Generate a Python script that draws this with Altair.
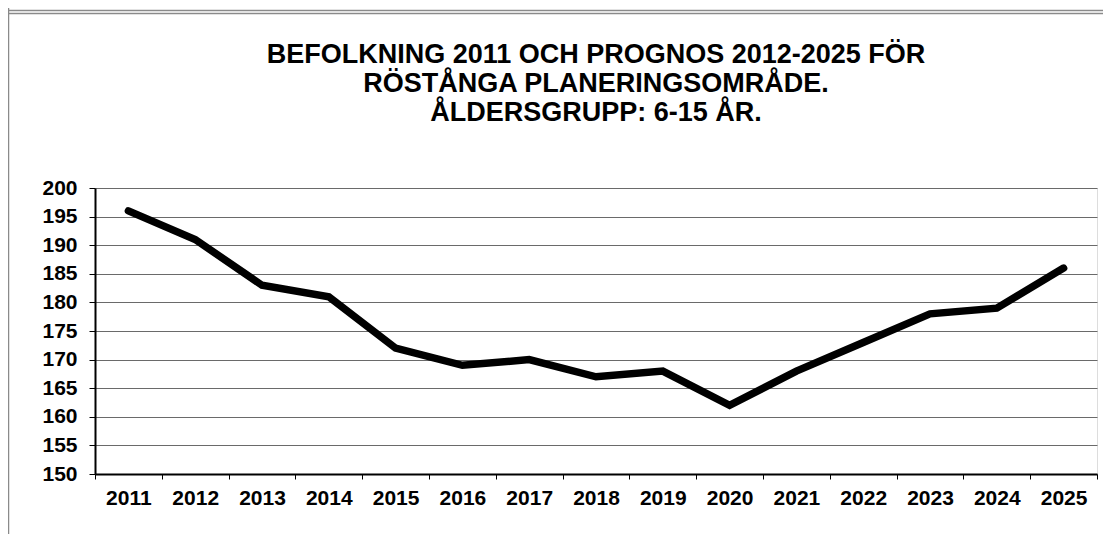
import altair as alt
import pandas as pd

years = [2011, 2012, 2013, 2014, 2015, 2016, 2017, 2018, 2019, 2020, 2021, 2022, 2023, 2024, 2025]
values = [196, 191, 183, 181, 172, 169, 170, 167, 168, 162, 168, 173, 178, 179, 186]
title_lines = ["BEFOLKNING 2011 OCH PROGNOS 2012-2025 FÖR",
               "RÖSTÅNGA PLANERINGSOMRÅDE.",
               "ÅLDERSGRUPP: 6-15 ÅR."]
y_ticks = list(range(150, 201, 5))
x_tick_positions = [y - 0.5 for y in years] + [years[-1] + 0.5]

W, H = 1002, 286
FONT = "Liberation Sans"

df = pd.DataFrame({"year": years, "value": values})

line = alt.Chart(df).mark_line(
    color="black", strokeWidth=7.5, strokeCap="round", strokeJoin="miter"
).encode(
    x=alt.X("year:Q",
            scale=alt.Scale(domain=[years[0] - 0.5, years[-1] + 0.5], nice=False, zero=False),
            axis=alt.Axis(values=x_tick_positions, title=None, grid=False,
                          labelExpr="datum.value < %d ? toString(datum.value + 0.5) : ''" % years[-1],
                          labelOffset=W / len(years) / 2, labelOverlap=False, labelFlush=False,
                          labelFont=FONT, labelFontSize=21, labelFontWeight="bold", labelColor="black",
                          labelPadding=8, tickSize=5, tickColor="black", tickWidth=1,
                          domainColor="black", domainWidth=2)),
    y=alt.Y("value:Q",
            scale=alt.Scale(domain=[150, 200], nice=False, zero=False),
            axis=alt.Axis(values=y_ticks, title=None, grid=True, gridColor="#6a6a6a", gridWidth=1,
                          labelFont=FONT, labelFontSize=21, labelFontWeight="bold", labelColor="black",
                          labelPadding=12, tickSize=6, tickColor="black", tickWidth=1,
                          domainColor="black", domainWidth=2)),
)

frame_df = pd.DataFrame({"a": [0]})
frame_left = alt.Chart(frame_df).mark_rule(color="#8a8a8a", strokeWidth=1.5).encode(
    x=alt.value(-86.5), y=alt.value(-180), y2=alt.value(H + 62))
frame_top1 = alt.Chart(frame_df).mark_rule(color="#8a8a8a", strokeWidth=1.5).encode(
    x=alt.value(-86.5), x2=alt.value(W + 10), y=alt.value(-177.5))
frame_top2 = alt.Chart(frame_df).mark_rule(color="#8a8a8a", strokeWidth=1.5).encode(
    x=alt.value(-86.5), x2=alt.value(W + 10), y=alt.value(-174.5))

chart = alt.layer(frame_left, frame_top1, frame_top2, line).properties(
    width=W, height=H,
    title=alt.TitleParams(text=title_lines, font=FONT, fontSize=27, fontWeight="bold",
                          color="black", lineHeight=29, anchor="middle", frame="group",
                          baseline="bottom", offset=-147),
    autosize=alt.AutoSizeParams(type="none"),
    padding={"left": 87, "top": 180, "right": 6, "bottom": 60},
).configure_view(stroke="#9a9a9a", strokeWidth=2).configure(background="white")

chart.save("out.html", embed_options={"renderer": "svg", "actions": False})
